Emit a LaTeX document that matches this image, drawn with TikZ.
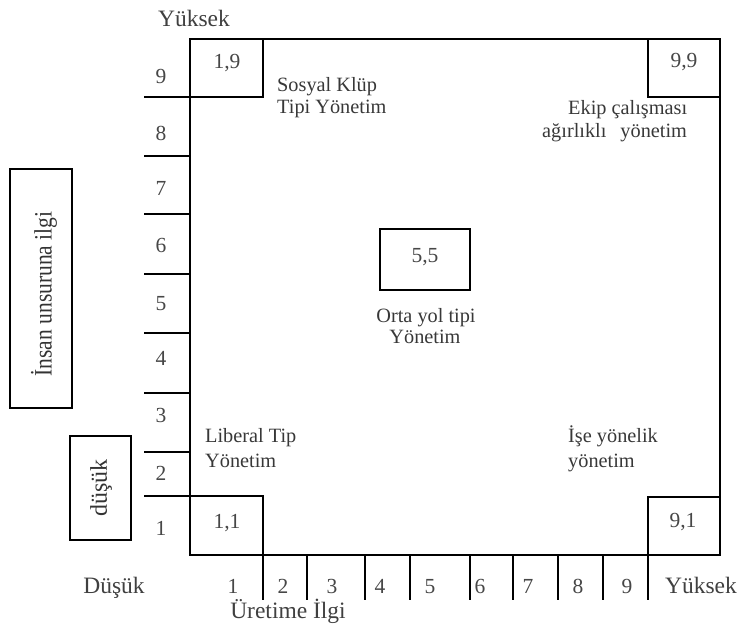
\documentclass[tikz,border=0pt]{standalone}
\usepackage{fontspec}
\setmainfont{Liberation Serif}
\begin{document}
\begin{tikzpicture}[x=1pt,y=-1pt,
  frame/.style={draw=black,line width=2.8pt,line join=miter},
  tick/.style={draw=black,line width=2.6pt},
  thintick/.style={draw=black,line width=1.7pt},
  lbl/.style={text=black!78,font=\fontsize{20.3}{23}\selectfont,inner sep=0pt},
  numlbl/.style={text=black!72,font=\fontsize{21.5}{24}\selectfont,inner sep=0pt,anchor=base},
  axlbl/.style={text=black!75,font=\fontsize{23.5}{26}\selectfont,inner sep=0pt,anchor=base},
  biglbl/.style={text=black!80,inner sep=0pt,rotate=90}]
\useasboundingbox (0,0) rectangle (739,625);
% main frame
\draw[frame] (190,39) rectangle (720,555);
% corner boxes and centre box
\draw[frame] (190,39) rectangle (263,97);
\draw[frame] (648,39) rectangle (720,97);
\draw[frame] (190,496) rectangle (263,555);
\draw[frame] (648,497) rectangle (720,555);
\draw[frame] (380,229) rectangle (470,290);
% left ticks
\foreach \yy in {97,214,274,333,393,452,496} \draw[tick] (144,\yy) -- (190,\yy);
\draw[thintick] (144,156) -- (190,156);
% bottom ticks
\foreach \xx in {263,307,365,410,470,513,603,648} \draw[tick] (\xx,555) -- (\xx,600);
\draw[thintick] (558,555) -- (558,600);
% left label boxes
\draw[frame] (10,169) rectangle (72,408);
\draw[frame] (70,436) rectangle (131,540);
\node[biglbl,font=\fontsize{25}{28}\selectfont] (insan) at (44,294) {\scalebox{0.86}[1]{İnsan unsuruna ilgi}};
\node[biglbl,font=\fontsize{24}{27}\selectfont] (dusuk) at (101,488) {düşük};
% left axis numbers
\node[numlbl] (l9) at (161,83) {9};
\node[numlbl] (l8) at (161,140) {8};
\node[numlbl] (l7) at (161,195) {7};
\node[numlbl] (l6) at (161,252) {6};
\node[numlbl] (l5) at (161,310) {5};
\node[numlbl] (l4) at (161,365) {4};
\node[numlbl] (l3) at (161,422) {3};
\node[numlbl] (l2) at (161,480) {2};
\node[numlbl] (l1) at (161,535) {1};
% bottom axis numbers
\node[numlbl] (b1) at (233,593) {1};
\node[numlbl] (b2) at (283,593) {2};
\node[numlbl] (b3) at (332,593) {3};
\node[numlbl] (b4) at (380,593) {4};
\node[numlbl] (b5) at (430,593) {5};
\node[numlbl] (b6) at (480,593) {6};
\node[numlbl] (b7) at (528,593) {7};
\node[numlbl] (b8) at (578,593) {8};
\node[numlbl] (b9) at (627,593) {9};
\node[axlbl] (byuk) at (701,593) {Yüksek};
\node[axlbl] (bdus) at (114,593) {Düşük};
\node[axlbl] (uret) at (288,618) {Üretime İlgi};
\node[axlbl] (tyuk) at (194,26) {Yüksek};
% box values
\node[numlbl] (v19) at (227,68) {1,9};
\node[numlbl] (v99) at (684,67) {9,9};
\node[numlbl] (v11) at (227,528) {1,1};
\node[numlbl] (v91) at (683,527) {9,1};
\node[numlbl] (v55) at (425,262) {5,5};
% style labels
\node[lbl,anchor=base west] (sk1) at (277,91) {Sosyal Klüp};
\node[lbl,anchor=base west] (sk2) at (277,113) {Tipi Yönetim};
\node[lbl,anchor=base west] (ek1) at (568,114) {Ekip çalışması};
\node[lbl,anchor=base west] (ek2) at (542,137) {ağırlıklı\hspace{14pt}yönetim};
\node[lbl,anchor=base] (or1) at (426,322) {Orta yol tipi};
\node[lbl,anchor=base] (or2) at (425,343) {Yönetim};
\node[lbl,anchor=base west] (lt1) at (205,442) {Liberal Tip};
\node[lbl,anchor=base west] (lt2) at (205,467) {Yönetim};
\node[lbl,anchor=base west] (iy1) at (568,442) {İşe yönelik};
\node[lbl,anchor=base west] (iy2) at (568,467) {yönetim};
\end{tikzpicture}
\end{document}
